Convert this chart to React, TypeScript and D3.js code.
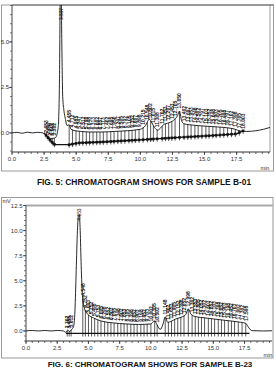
import React from "react";
import * as d3 from "d3";

// ---------- Top chromatogram (FIG. 5, sample B-01) ----------
const topTime = [0, 0.4, 0.8, 1.2, 1.6, 2.0, 2.4, 2.6, 2.8, 3.0, 3.2, 3.4, 3.6, 3.7, 3.76, 3.82, 3.88, 3.95, 4.05, 4.15, 4.3, 4.45, 4.6, 4.9, 5.4, 6.0, 7.0, 8.0, 9.0, 10.0, 10.4, 10.7, 10.9, 11.1, 11.35, 11.55, 11.8, 12.2, 12.6, 12.9, 13.05, 13.2, 13.4, 13.8, 14.5, 15.5, 16.5, 17.3, 17.8, 18.3, 19.0, 19.6, 20.1];
const topSignal = [0, 0.03, -0.02, 0.04, 0.0, 0.03, 0.0, -0.1, -0.2, -0.3, -0.3, -0.25, 0.3, 3.0, 7.5, 8.2, 5.0, 2.0, 1.2, 0.8, 0.4, 0.45, 0.2, 0.12, 0.08, 0.05, 0.05, 0.08, 0.12, 0.2, 0.4, 0.75, 0.55, 0.3, 0.15, 0.25, 0.45, 0.55, 0.7, 0.95, 1.2, 0.7, 0.5, 0.45, 0.4, 0.35, 0.3, 0.22, 0.1, 0.08, 0.12, 0.2, 0.3];
const topBaseTime = [2.5, 2.8, 3.1, 3.35, 4.45, 5.2, 7.0, 10.0, 13.0, 15.5, 17.5, 17.9];
const topBaseline = [0.0, -0.25, -0.5, -0.65, -0.65, -0.55, -0.5, -0.38, -0.25, -0.15, -0.05, 0.08];
const topPeakTimes = [2.653, 2.817, 2.975, 3.142, 3.302, 4.455, 4.712, 4.985, 5.247, 5.512, 5.79, 6.048, 6.313, 6.602, 6.857, 7.113, 7.402, 7.695, 7.95, 8.247, 8.505, 8.792, 9.105, 9.352, 9.607, 9.898, 10.215, 10.548, 10.802, 11.015, 11.308, 11.702, 11.953, 12.207, 12.453, 12.705, 13.05, 13.402, 13.697, 13.953, 14.248, 14.502, 14.797, 15.103, 15.352, 15.648, 15.903, 16.205, 16.498, 16.797, 17.102, 17.398, 17.705, 18.003];
const topMainPeak = 3.807;
const topYTicks = [0, 2.5, 5];

// ---------- Bottom chromatogram (FIG. 6, sample B-23) ----------
const bottomTime = [0, 0.5, 1, 1.5, 2, 2.5, 3, 3.2, 3.35, 3.5, 3.65, 3.8, 3.92, 4.02, 4.12, 4.2, 4.27, 4.34, 4.42, 4.52, 4.65, 4.8, 5.0, 5.4, 6.0, 7, 8, 9, 10, 10.3, 10.5, 10.75, 10.95, 11.15, 11.35, 11.6, 12, 12.5, 12.8, 13.0, 13.2, 13.5, 14, 15, 16, 17, 17.6, 17.85, 18.1, 19, 19.7];
const bottomSignal = [0, 0.05, 0, 0.05, 0, 0.05, 0, -0.15, 0.1, -0.05, 0.15, 0.4, 2, 6, 10, 11.5, 11.6, 10, 6.5, 3.5, 2.4, 1.9, 1.6, 1.3, 1.0, 0.8, 0.7, 0.65, 0.7, 1.0, 0.6, 0.15, 0.6, 1.4, 0.85, 0.95, 1.2, 1.4, 1.65, 2.2, 1.7, 1.45, 1.35, 1.2, 1.05, 0.9, 0.75, 0.3, 0.03, 0, 0.02];
const bottomBaseTime = [3.2, 17.9];
const bottomBaseline = [-0.25, -0.25];
const bottomPeakTimes = [3.302, 3.455, 3.612, 4.548, 4.752, 5.003, 5.252, 5.498, 5.753, 6.005, 6.298, 6.552, 6.803, 7.055, 7.348, 7.602, 7.853, 8.105, 8.398, 8.652, 8.903, 9.198, 9.452, 9.703, 10.002, 10.305, 10.502, 11.148, 11.402, 11.653, 11.905, 12.152, 12.398, 12.652, 12.998, 13.302, 13.553, 13.805, 14.052, 14.302, 14.603, 14.852, 15.103, 15.398, 15.652, 15.903, 16.198, 16.452, 16.703, 17.002, 17.302, 17.598];
const bottomMainPeak = 4.253;
const bottomYTicks = [0, 2.5, 5, 7.5, 10, 12.5];

const xTickValues = [0, 2.5, 5, 7.5, 10, 12.5, 15, 17.5];
const captionTop = "FIG. 5: CHROMATOGRAM SHOWS FOR SAMPLE B-01";
const captionBottom = "FIG. 6: CHROMATOGRAM SHOWS  FOR SAMPLE B-23";

const AX = "Liberation Sans, Arial, sans-serif";
const NARROW = "Liberation Sans Narrow, Liberation Sans, sans-serif";

type ChartProps = {
  id: string;
  times: number[];
  signal: number[];
  baseTimes: number[];
  baseline: number[];
  peaks: number[];
  mainPeak: number;
  yTicks: number[];
  xMax: number;
  yMin: number;
  yMax: number;
  left: number;
  right: number;
  top: number;
  bottom: number;
  labelRight: number;
  xLabelY: number;
  markers: boolean;
};

function Chromatogram(p: ChartProps) {
  const x = d3.scaleLinear().domain([0, p.xMax]).range([p.left, p.right]);
  const y = d3.scaleLinear().domain([p.yMin, p.yMax]).range([p.bottom, p.top]);
  const sig = d3.scaleLinear().domain(p.times).range(p.signal);
  const base = d3.scaleLinear().domain(p.baseTimes).range(p.baseline);
  const line = d3
    .line<number>()
    .x((_, i) => x(p.times[i]))
    .y((d) => y(d))
    .curve(d3.curveMonotoneX);
  const baseLine = d3
    .line<number>()
    .x((_, i) => x(p.baseTimes[i]))
    .y((d) => y(d));
  const minorX = d3.range(0, p.xMax + 0.001, 0.5);
  const minorY = d3.range(Math.ceil(p.yMin * 2) / 2, p.yMax + 0.001, 0.5);
  const apexY = Math.max(y(sig(p.mainPeak)), p.top + 16);
  return (
    <g>
      <defs>
        <clipPath id={p.id}>
          <rect x={p.left} y={p.top} width={p.right - p.left} height={p.bottom - p.top} />
        </clipPath>
      </defs>
      {/* y axis */}
      <line x1={p.left} x2={p.left} y1={p.top} y2={p.bottom} stroke="#444" strokeWidth={1} />
      {minorY.map((v) => (
        <line key={"my" + v} x1={p.left - 2} x2={p.left} y1={y(v)} y2={y(v)} stroke="#444" strokeWidth={0.7} />
      ))}
      {p.yTicks.map((v) => (
        <g key={"yt" + v}>
          <line x1={p.left - 3} x2={p.left} y1={y(v)} y2={y(v)} stroke="#333" strokeWidth={0.8} />
          <text x={p.labelRight} y={y(v) + 2} fontSize={6} fontFamily={AX} textAnchor="end" fill="#333">
            {v.toFixed(1)}
          </text>
        </g>
      ))}
      {/* x axis */}
      <line x1={p.left} x2={p.right} y1={p.bottom} y2={p.bottom} stroke="#333" strokeWidth={1} />
      {minorX.map((v) => (
        <line key={"mx" + v} x1={x(v)} x2={x(v)} y1={p.bottom} y2={p.bottom + 2} stroke="#333" strokeWidth={0.7} />
      ))}
      {xTickValues.map((v) => (
        <g key={"xt" + v}>
          <line x1={x(v)} x2={x(v)} y1={p.bottom} y2={p.bottom + 3} stroke="#333" strokeWidth={0.8} />
          <text x={x(v)} y={p.xLabelY} fontSize={6} fontFamily={AX} textAnchor="middle" fill="#333">
            {v.toFixed(1)}
          </text>
        </g>
      ))}
      <g clipPath={`url(#${p.id})`}>
        {/* drop lines */}
        {p.peaks.map((t) => (
          <line
            key={"d" + t}
            x1={x(t)}
            x2={x(t)}
            y1={y(sig(t))}
            y2={y(base(t)) + 3}
            stroke="#111"
            strokeWidth={0.7}
          />
        ))}
        <path d={baseLine(p.baseline) || ""} fill="none" stroke="#111" strokeWidth={1.3} />
        {p.markers &&
          p.peaks.map((t) => (
            <rect key={"m" + t} x={x(t) - 1.3} y={y(base(t)) - 1.3} width={2.6} height={2.6} fill="#111" />
          ))}
        <path d={line(p.signal) || ""} fill="none" stroke="#111" strokeWidth={0.9} />
      </g>
      {/* peak labels */}
      {p.peaks.map((t) => (
        <text
          key={"l" + t}
          transform={`translate(${x(t) + 1.8},${y(sig(t)) - 2.5}) rotate(-90)`}
          fontSize={5}
          fontWeight={700}
          fontFamily={NARROW}
          fill="#111"
        >
          {t.toFixed(3)}
        </text>
      ))}
      <text
        transform={`translate(${x(p.mainPeak) + 1.8},${apexY - 1}) rotate(-90)`}
        fontSize={4.8}
        fontFamily={NARROW}
        fill="#111"
      >
        {p.mainPeak.toFixed(3)}
      </text>
    </g>
  );
}

export default function App() {
  return (
    <svg
      width={276}
      height={369}
      viewBox="0 0 276 369"
      style={{ position: "absolute", left: 0, top: 0, background: "#fff" }}
    >
      <rect width={276} height={369} fill="#fff" />
      {/* top frame */}
      <rect x={1.5} y={5} width={272} height={166} fill="none" stroke="#999" strokeWidth={1} />
      <line x1={12} x2={274} y1={5} y2={5} stroke="#999" strokeWidth={2.2} />
      <line x1={270} x2={270} y1={5} y2={152} stroke="#777" strokeWidth={0.7} />
      <Chromatogram
        id="clipTop"
        times={topTime}
        signal={topSignal}
        baseTimes={topBaseTime}
        baseline={topBaseline}
        peaks={topPeakTimes}
        mainPeak={topMainPeak}
        yTicks={topYTicks}
        xMax={20.1}
        yMin={-1.05}
        yMax={7.03}
        left={12}
        right={270}
        top={5}
        bottom={152}
        labelRight={9}
        xLabelY={161}
        markers={true}
      />
      <text x={265} y={169.5} fontSize={5.5} fontFamily={AX} textAnchor="middle" fill="#333">
        min
      </text>
      <text
        x={144}
        y={184.5}
        fontSize={8.4}
        fontWeight={700}
        fontFamily={NARROW}
        textAnchor="middle"
        fill="#111"
      >
        {captionTop}
      </text>

      {/* bottom frame */}
      <rect x={1.5} y={197.5} width={271.5} height={160.5} fill="none" stroke="#999" strokeWidth={1} />
      <line x1={26} x2={273} y1={205.5} y2={205.5} stroke="#aaa" strokeWidth={1.8} />
      <text x={2.5} y={203} fontSize={5.5} fontFamily={AX} fill="#333">
        mV
      </text>
      <Chromatogram
        id="clipBottom"
        times={bottomTime}
        signal={bottomSignal}
        baseTimes={bottomBaseTime}
        baseline={bottomBaseline}
        peaks={bottomPeakTimes}
        mainPeak={bottomMainPeak}
        yTicks={bottomYTicks}
        xMax={19.7}
        yMin={-1}
        yMax={12.5}
        left={26}
        right={272}
        top={205.5}
        bottom={341}
        labelRight={22.5}
        xLabelY={350}
        markers={false}
      />
      <text x={268} y={356.5} fontSize={5.5} fontFamily={AX} textAnchor="middle" fill="#333">
        min
      </text>
      <text
        x={150}
        y={367}
        fontSize={8}
        fontWeight={700}
        fontFamily={NARROW}
        textAnchor="middle"
        fill="#111"
      >
        {captionBottom}
      </text>
    </svg>
  );
}
